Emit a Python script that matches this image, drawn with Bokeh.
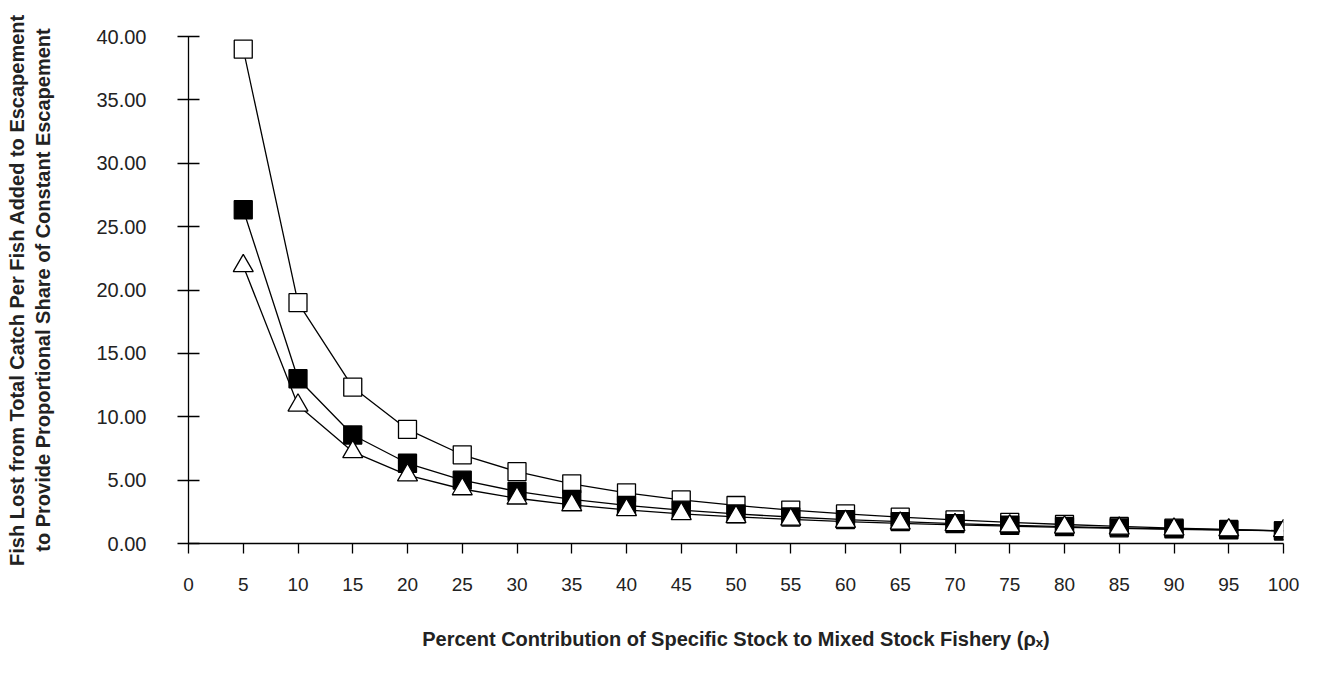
from bokeh.plotting import figure
from bokeh.models import FixedTicker, Range1d
from bokeh.embed import file_html
from bokeh.resources import INLINE

pct = [5, 10, 15, 20, 25, 30, 35, 40, 45, 50, 55, 60, 65, 70, 75, 80, 85, 90, 95, 100]
open_sq = [39.00, 19.00, 12.33, 9.00, 7.00, 5.67, 4.71, 4.00, 3.44, 3.00,
           2.64, 2.33, 2.08, 1.86, 1.67, 1.50, 1.35, 1.22, 1.11, 1.00]
filled_sq = [26.33, 13.00, 8.56, 6.33, 5.00, 4.11, 3.48, 3.00, 2.63, 2.33,
             2.09, 1.89, 1.72, 1.57, 1.44, 1.33, 1.24, 1.15, 1.07, 1.00]
open_tri = [21.90, 10.90, 7.23, 5.40, 4.30, 3.57, 3.04, 2.65, 2.34, 2.10,
            1.90, 1.73, 1.59, 1.47, 1.37, 1.28, 1.19, 1.12, 1.06, 1.00]
x_ticks = list(range(0, 105, 5))
y_ticks = [0, 5, 10, 15, 20, 25, 30, 35, 40]
y_tick_labels = {0: "0.00", 5: "5.00", 10: "10.00", 15: "15.00", 20: "20.00",
                 25: "25.00", 30: "30.00", 35: "35.00", 40: "40.00"}

FONT = "Liberation Sans"

p = figure(width=1304, height=657, output_backend="svg", toolbar_location=None,
           x_range=Range1d(0, 100), y_range=Range1d(0, 40),
           min_border_left=188, min_border_right=21, min_border_top=36, min_border_bottom=114)
p.outline_line_color = None
p.xgrid.grid_line_color = None
p.ygrid.grid_line_color = None
p.background_fill_color = "white"
p.border_fill_color = "white"

lw = 1.3
p.line(pct, open_sq, line_color="black", line_width=lw)
p.scatter(pct, open_sq, marker="square", size=18, fill_color="white", line_color="black", line_width=lw)
p.line(pct, filled_sq, line_color="black", line_width=lw)
p.scatter(pct, filled_sq, marker="square", size=18, fill_color="black", line_color="black", line_width=lw)
p.line(pct, open_tri, line_color="black", line_width=lw)
p.scatter(pct, open_tri, marker="triangle", size=20, fill_color="white", line_color="black", line_width=lw)

# x axis
xa = p.xaxis[0]
xa.ticker = FixedTicker(ticks=x_ticks)
xa.minor_tick_line_color = None
xa.major_tick_in = 0
xa.major_tick_out = 10
xa.major_tick_line_width = 1.3
xa.axis_line_width = 1.3
xa.major_label_text_font = FONT
xa.major_label_text_font_size = "19px"
xa.major_label_text_color = "#222222"
xa.major_label_standoff = 24
xa.axis_label = "Percent Contribution of Specific Stock to Mixed Stock Fishery (\u03c1\u2093)"
xa.axis_label_text_font = FONT
xa.axis_label_text_font_style = "bold"
xa.axis_label_text_font_size = "20px"
xa.axis_label_text_color = "#222222"
xa.axis_label_standoff = 34

# y axis
ya = p.yaxis[0]
ya.ticker = FixedTicker(ticks=y_ticks)
ya.major_label_overrides = y_tick_labels
ya.minor_tick_line_color = None
ya.major_tick_in = 11
ya.major_tick_out = 11
ya.major_tick_line_width = 1.3
ya.axis_line_width = 1.3
ya.major_label_text_font = FONT
ya.major_label_text_font_size = "20px"
ya.major_label_text_color = "#222222"
ya.major_label_standoff = 31
ya.axis_label = "Fish Lost from Total Catch Per Fish Added to Escapement\nto Provide Proportional Share of Constant Escapement"
ya.axis_label_text_font = FONT
ya.axis_label_text_font_style = "bold"
ya.axis_label_text_font_size = "20px"
ya.axis_label_text_color = "#222222"
ya.axis_label_standoff = 39

open("out.html", "w").write(file_html(p, INLINE))
